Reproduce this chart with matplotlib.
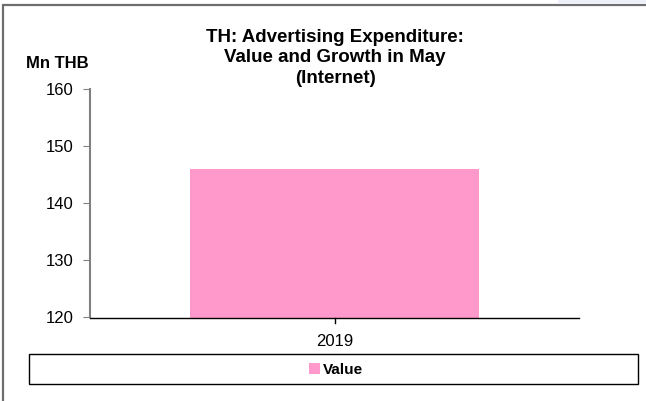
import matplotlib
matplotlib.use('Agg')
from matplotlib import pyplot as plt
from matplotlib.patches import Rectangle

plt.rcParams['font.family'] = ['Liberation Sans', 'DejaVu Sans']

years = ['2019']
values = [146]
series_name = 'Value'
title = 'TH: Advertising Expenditure:\nValue and Growth in May\n(Internet)'

W, H = 646, 401
fig = plt.figure(figsize=(W / 100, H / 100), dpi=100)

# outer chart border (only left/top visible in the crop) and the bit of blue at top right
fig.patches.append(Rectangle((3 / W, -0.1), 1.2, 1 - 5 / H + 0.1, transform=fig.transFigure,
                             fill=False, edgecolor='#6e6e6e', linewidth=1.6))
fig.patches.append(Rectangle((558 / W, 1 - 4 / H), 1, 4 / H, transform=fig.transFigure,
                             facecolor='#eef1f9', edgecolor='none'))

ax = fig.add_axes([90 / W, 1 - 317.5 / H, (579 - 90) / W, (317.5 - 89.3) / H])
x = list(range(len(years)))
ax.bar(x, values, width=0.589, color='#ff99cc', label=series_name)
ax.set_xlim(-0.5, 0.5)
ax.set_ylim(120, 160)
ax.set_yticks([120, 130, 140, 150, 160])
ax.set_xticks(x)
ax.set_xticklabels(years)

for s in ['top', 'right']:
    ax.spines[s].set_visible(False)
ax.spines['left'].set_color('#808080')
ax.spines['left'].set_linewidth(1.5)
ax.spines['bottom'].set_color('black')
ax.spines['bottom'].set_linewidth(1)
ax.tick_params(axis='y', length=5, color='#808080', labelsize=12, pad=7)
ax.tick_params(axis='x', length=0, labelsize=12, pad=12)
# end tick at right of x axis
ax.plot([0.5, 0.5], [0, -0.025], transform=ax.transAxes, color='black', lw=1, clip_on=False)

fig.text(335 / W, 1 - 58 / H, title, ha='center', va='center', fontsize=13.5,
         fontweight='bold', linespacing=1.3)
fig.text(57 / W, 1 - 63 / H, 'Mn THB', ha='center', va='center', fontsize=12, fontweight='bold')

# legend box
fig.patches.append(Rectangle((29 / W, 1 - 383.5 / H), (638 - 29) / W, (383.5 - 354) / H,
                             transform=fig.transFigure, fill=False, edgecolor='black', linewidth=1))
h, l = ax.get_legend_handles_labels()
fig.legend(h, l, loc='center', bbox_to_anchor=(336 / W, 1 - 369.5 / H), frameon=False,
           handlelength=0.7, handleheight=0.7, handletextpad=0.2,
           prop={'weight': 'bold', 'size': 11})

fig.savefig('out.png', dpi=100)
